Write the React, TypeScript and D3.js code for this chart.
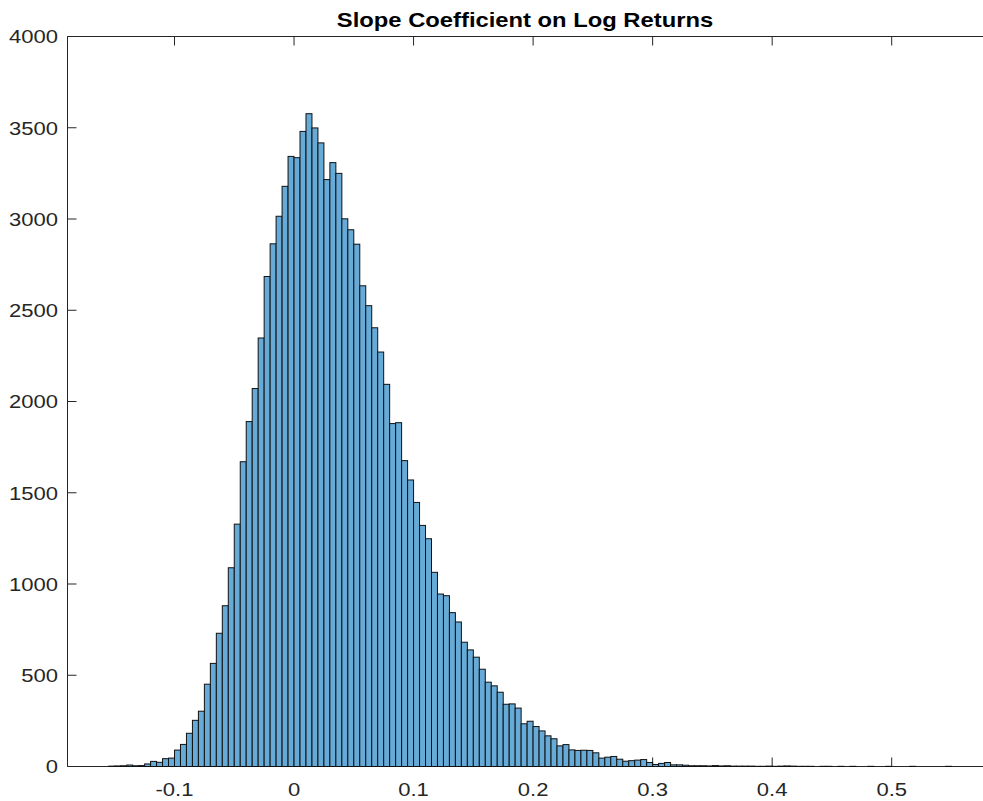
import React from 'react';
import * as d3 from 'd3';

const binStart = -0.155;
const binWidth = 0.005;
const counts = [
  2, 3, 4, 8, 4, 5, 14, 28, 23, 43, 46, 90, 121, 182, 253, 303, 451, 565, 730, 881,
  1089, 1328, 1670, 1890, 2071, 2348, 2685, 2864, 3015, 3179, 3343, 3336, 3480, 3577, 3499, 3417, 3216, 3309, 3250, 3001,
  2941, 2862, 2634, 2525, 2404, 2271, 2094, 1879, 1884, 1676, 1570, 1447, 1321, 1248, 1064, 945, 936, 843, 792, 681,
  639, 599, 533, 462, 442, 407, 341, 343, 320, 234, 248, 219, 195, 168, 152, 113, 120, 91, 88, 89,
  88, 75, 46, 51, 55, 40, 29, 32, 35, 38, 22, 11, 17, 22, 9, 9, 7, 4, 4, 4,
  3, 5, 3, 4, 2, 2, 2, 2, 1, 1, 2, 1,
  2, 3, 2, 1, 1, 1, 0, 1, 1, 0, 1, 0, 1, 0, 0, 1, 0, 0, 1, 0, 0, 0, 1, 0, 0, 0, 0, 0, 1,
];
const xTicks = [-0.1, 0, 0.1, 0.2, 0.3, 0.4, 0.5];
const xTickLabels = ['-0.1', '0', '0.1', '0.2', '0.3', '0.4', '0.5'];
const yTicks = [0, 500, 1000, 1500, 2000, 2500, 3000, 3500, 4000];
const titleText = 'Slope Coefficient on Log Returns';

export default function App() {
  const W = 983;
  const H = 801;
  const left = 67.5;
  const right = 984;
  const top = 36.5;
  const bottom = 766.5;
  const x = d3.scaleLinear().domain([-0.1, 0.5]).range([174.5, 891.7]);
  const y = d3.scaleLinear().domain([0, 4000]).range([bottom, top]);
  const sx = 1.16;
  const axisColor = '#262626';
  const tickLen = 9;
  const font = "'Liberation Sans', Arial, Helvetica, sans-serif";

  const bins = counts.map((c, i) => {
    const x0 = binStart + i * binWidth;
    return { x0, x1: x0 + binWidth, c };
  });

  return (
    <div style={{ position: 'absolute', left: 0, top: 0 }}>
      <svg width={W} height={H} style={{ display: 'block', background: '#fff' }}>
        <rect x={0} y={0} width={W} height={H} fill="#ffffff" />
        {/* axes box */}
        <line x1={left} x2={right} y1={top} y2={top} stroke={axisColor} strokeWidth={1} />
        <line x1={left} x2={right} y1={bottom} y2={bottom} stroke={axisColor} strokeWidth={1} />
        <line x1={left} x2={left} y1={top} y2={bottom} stroke={axisColor} strokeWidth={1} />
        {xTicks.map((t) => (
          <g key={'xt' + t}>
            <line x1={x(t)} x2={x(t)} y1={bottom} y2={bottom - tickLen} stroke={axisColor} strokeWidth={1} />
            <line x1={x(t)} x2={x(t)} y1={top} y2={top + tickLen} stroke={axisColor} strokeWidth={1} />
          </g>
        ))}
        {yTicks.map((t) => (
          <line key={'yt' + t} x1={left} x2={left + tickLen} y1={y(t)} y2={y(t)} stroke={axisColor} strokeWidth={1} />
        ))}
        {/* bars */}
        <g>
          {bins.map((b, i) => (
            <rect
              key={i}
              x={x(b.x0)}
              y={y(b.c)}
              width={x(b.x1) - x(b.x0)}
              height={bottom - y(b.c)}
              fill="rgb(102,170,215)"
              stroke="#111"
              strokeWidth={1}
            />
          ))}
        </g>
        {/* tick labels */}
        {xTicks.map((t, i) => (
          <text
            key={'xl' + t}
            transform={`translate(${x(t)},796) scale(${sx},1)`}
            textAnchor="middle"
            fontFamily={font}
            fontSize={19}
            fill={axisColor}
          >
            {xTickLabels[i]}
          </text>
        ))}
        {yTicks.map((t) => (
          <text
            key={'yl' + t}
            transform={`translate(58,${y(t)}) scale(${sx},1)`}
            textAnchor="end"
            dy="0.36em"
            fontFamily={font}
            fontSize={19}
            fill={axisColor}
          >
            {t}
          </text>
        ))}
        <text
          transform={`translate(${(left + 982.5) / 2},27) scale(${sx},1)`}
          textAnchor="middle"
          fontFamily={font}
          fontSize={20.5}
          fontWeight="bold"
          fill="#000"
        >
          {titleText}
        </text>
      </svg>
    </div>
  );
}
